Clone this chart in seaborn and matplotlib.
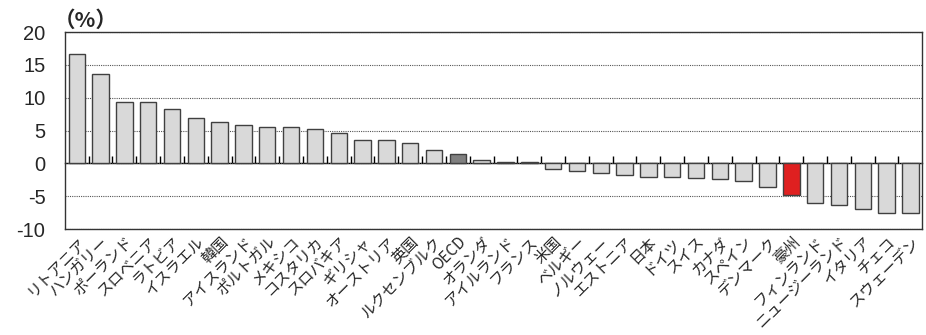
import numpy as np
import pandas as pd
import matplotlib
matplotlib.use("Agg")
import matplotlib.pyplot as plt
import seaborn as sns

countries = ["リトアニア", "ハンガリー", "ポーランド", "スロベニア", "ラトビア", "イスラエル",
             "韓国", "アイスランド", "ポルトガル", "メキシコ", "コスタリカ", "スロバキア",
             "ギリシャ", "オーストリア", "英国", "ルクセンブルク", "OECD", "オランダ",
             "アイルランド", "フランス", "米国", "ベルギー", "ノルウェー", "エストニア",
             "日本", "ドイツ", "スイス", "カナダ", "スペイン", "デンマーク", "豪州",
             "フィンランド", "ニュージーランド", "イタリア", "チェコ", "スウェーデン"]
values = [16.6, 13.6, 9.4, 9.3, 8.3, 6.9,
          6.3, 5.8, 5.6, 5.5, 5.2, 4.7,
          3.6, 3.5, 3.1, 2.0, 1.5, 0.6,
          0.3, 0.15, -0.8, -1.1, -1.5, -1.8,
          -2.0, -2.0, -2.2, -2.4, -2.6, -3.6, -4.8,
          -6.0, -6.3, -7.0, -7.5, -7.5]
highlight = {"OECD": "#808080", "豪州": "#ff0000"}
base_color = "#d9d9d9"
y_ticks = [-10, -5, 0, 5, 10, 15, 20]
unit_label = "（%）"

df = pd.DataFrame({"country": countries, "value": values})
palette = {c: highlight.get(c, base_color) for c in countries}

sns.set_theme(style="white")
plt.rcParams["font.family"] = ["Liberation Sans", "Noto Sans CJK JP", "DejaVu Sans"]

fig = plt.figure(figsize=(9.26, 3.35), dpi=100)
ax = fig.add_axes([0.070, 0.316, 0.926, 0.588])

sns.barplot(data=df, x="country", y="value", hue="country", palette=palette,
            legend=False, width=0.69, edgecolor="#404040", linewidth=1.0, ax=ax)

n = len(countries)
ax.set_xlim(-0.5, n - 0.5)
ax.set_ylim(min(y_ticks), max(y_ticks))
ax.set_yticks(y_ticks)
ax.set_yticklabels([str(t) for t in y_ticks], fontsize=14.5)
ax.set_xlabel("")
ax.set_ylabel("")
ax.set_xticks(range(n))
ax.set_xticklabels(countries, rotation=45, ha="right", va="top", rotation_mode="anchor",
                   fontsize=11, family=["Noto Sans CJK JP", "DejaVu Sans"])
ax.tick_params(axis="x", length=0, pad=3)
ax.tick_params(axis="y", length=0, pad=14)
ax.yaxis.grid(True, linestyle=(0, (1, 1)), color="#555555", linewidth=0.8)
ax.set_axisbelow(True)
for s in ax.spines.values():
    s.set_visible(True)
    s.set_color("#333333")
    s.set_linewidth(1.0)

# zero line with category-boundary ticks
lo, hi = min(y_ticks), max(y_ticks)
sec = ax.secondary_xaxis((0 - lo) / (hi - lo))
sec.spines["bottom"].set_color("black")
sec.spines["bottom"].set_linewidth(1.0)
sec.set_xticks(np.arange(0.5, n - 0.5, 1.0))
sec.tick_params(direction="in", length=5, width=1.0, color="black", labelbottom=False, labeltop=False)

fig.text(0.058, 0.908, unit_label, fontsize=15.5, fontweight="bold",
         family=["Noto Sans CJK JP", "DejaVu Sans"], ha="left", va="bottom")

fig.savefig("out.png", dpi=100, facecolor="white")
